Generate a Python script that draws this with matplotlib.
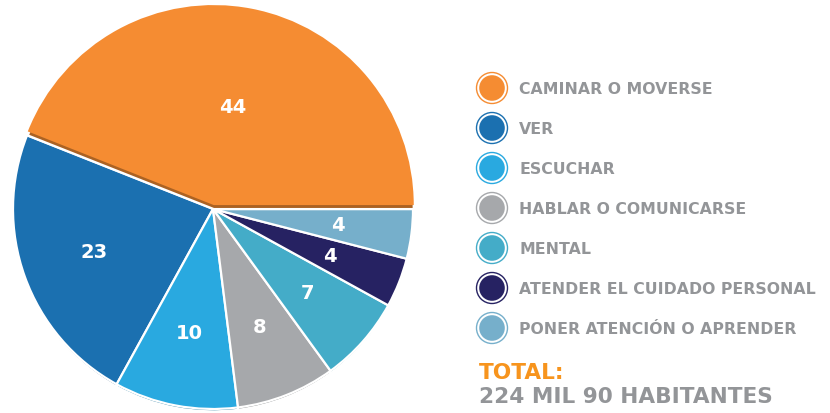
import matplotlib
matplotlib.use("Agg")
import matplotlib.pyplot as plt
import matplotlib.colors as mcolors
from matplotlib.patches import Circle
import numpy as np

# Data
categories = ["CAMINAR O MOVERSE", "VER", "ESCUCHAR", "HABLAR O COMUNICARSE",
              "MENTAL", "ATENDER EL CUIDADO PERSONAL", "PONER ATENCIÓN O APRENDER"]
values = [44, 23, 10, 8, 7, 4, 4]
colors = ["#F58C32", "#1B70B0", "#29A9E0", "#A6A8AB", "#44ACC8", "#262262", "#76AFCB"]
total_title = "TOTAL:"
total_text = "224 MIL 90 HABITANTES"

plt.rcParams['font.family'] = ['DejaVu Sans']
label_grey = "#939598"


def darker(c, f=0.7):
  r, g, b = mcolors.to_rgb(c)
  return (r * f, g * f, b * f)


fig = plt.figure(figsize=(8.3, 4.14), dpi=100)

# pie axes: center at (213, 210) px, radius 200 px
half = 207 / 200
ax = fig.add_axes([6 / 830, -3 / 414, 414 / 830, 414 / 414])

explode = [0.02, 0, 0, 0, 0, 0, 0]

# shadow layer (darker, shifted down)
shadows, _ = ax.pie(values, colors=[darker(c) for c in colors], startangle=0,
                    counterclock=True, explode=explode, center=(0, -0.012),
                    wedgeprops=dict(edgecolor='white', linewidth=1.6))

wedges, _ = ax.pie(values, colors=colors, startangle=0, counterclock=True,
                   explode=explode,
                   wedgeprops=dict(edgecolor='white', linewidth=1.6))

# the big slice sits on top, its shadow falls over the neighbours
for s in shadows:
  s.set_zorder(1)
for w in wedges:
  w.set_zorder(2)
shadows[0].set_center((shadows[0].center[0], shadows[0].center[1] - 0.008))
shadows[0].set_zorder(3)
wedges[0].set_zorder(4)
wedges[0].set_linewidth(0)

ax.set_xlim(-half, half)
ax.set_ylim(-half, half)
ax.set_aspect('equal')
ax.axis('off')

for w, v in zip(wedges, values):
  mid = np.deg2rad((w.theta1 + w.theta2) / 2)
  r = 0.5 if v > 30 else 0.63
  cx, cy = w.center
  ax.text(cx + r * np.cos(mid), cy + r * np.sin(mid), str(v),
          ha='center', va='center', color='white', fontsize=14,
          fontweight='bold', zorder=5)

# legend axes in pixel coordinates
lax = fig.add_axes([0, 0, 1, 1])
lax.set_xlim(0, 830)
lax.set_ylim(414, 0)
lax.axis('off')

for i, (cat, col) in enumerate(zip(categories, colors)):
  y = 89 + 40 * i
  lax.add_patch(Circle((492, y), 15.5, facecolor='white', edgecolor=col,
                       linewidth=1.0))
  lax.add_patch(Circle((492, y), 12.8, facecolor=col, edgecolor='none'))
  lax.text(519, y + 1, cat, ha='left', va='center', fontsize=11.3,
           fontweight='bold', color=label_grey)

lax.text(479, 373, total_title, ha='left', va='center', fontsize=15.6,
         fontweight='bold', color='#F7941D')
lax.text(479, 397, total_text, ha='left', va='center', fontsize=15.6,
         fontweight='bold', color=label_grey)

fig.savefig("out.png", dpi=100)
